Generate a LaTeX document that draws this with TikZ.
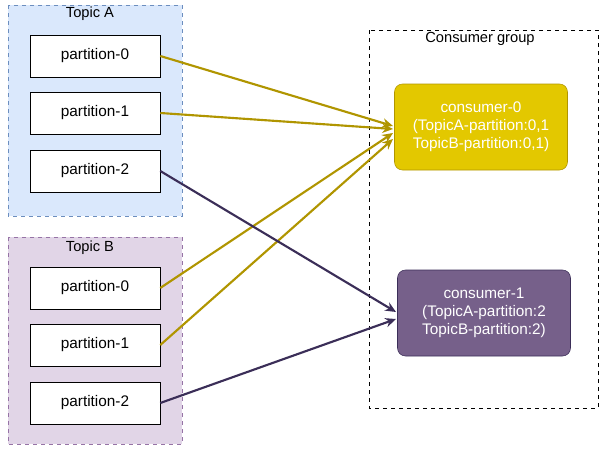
\documentclass[tikz,border=0pt]{standalone}
\usepackage{fontspec}
\setmainfont{Liberation Sans}
\usetikzlibrary{arrows.meta}
\definecolor{blueFill}{HTML}{DAE8FC}
\definecolor{blueLine}{HTML}{6C8EBF}
\definecolor{purpFill}{HTML}{E1D5E7}
\definecolor{purpLine}{HTML}{9673A6}
\definecolor{goldFill}{HTML}{E3C800}
\definecolor{goldLine}{HTML}{B09500}
\definecolor{violFill}{HTML}{76608A}
\definecolor{darkLine}{HTML}{3B2E58}
\tikzset{
  part/.style={draw, fill=white, minimum width=130*0.75pt, minimum height=42*0.75pt, inner sep=0pt, font=\fontsize{11.5}{13.5}\selectfont},
  cons/.style={draw, rounded corners=6pt, minimum width=173*0.75pt, minimum height=86*0.75pt, inner sep=1pt, align=center, text=white, font=\fontsize{11.5}{13.5}\selectfont},
  lbl/.style={font=\fontsize{11}{13}\selectfont},
  flow/.style={line width=1.6pt, -{Stealth[length=8pt,width=7pt]}}
}
\begin{document}
\begin{tikzpicture}[x=0.75pt,y=-0.75pt]
\useasboundingbox (0,0) rectangle (604,457);
% topics
\draw[dashed, blueLine, fill=blueFill] (8,5) rectangle (182,216);
\node[lbl] (topicA) at (90,14) {Topic A};
\draw[dashed, purpLine, fill=purpFill] (8,237) rectangle (182,444);
\node[lbl] (topicB) at (90,248) {Topic B};
\node[part] (a0) at (95,56) {partition-0};
\node[part] (a1) at (95,113) {partition-1};
\node[part] (a2) at (95,171) {partition-2};
\node[part] (b0) at (95,288) {partition-0};
\node[part] (b1) at (95,345) {partition-1};
\node[part] (b2) at (95,403) {partition-2};
% consumer group
\draw[dashed] (369,30) rectangle (598,408);
\node[lbl] (group) at (480,39) {Consumer group};
\node[cons, draw=goldLine, fill=goldFill] (c0) at (481,127) {consumer-0\\(TopicA-partition:0,1\\TopicB-partition:0,1)};
\node[cons, draw=darkLine, fill=violFill] (c1) at (484,313) {consumer-1\\(TopicA-partition:2\\TopicB-partition:2)};
\coordinate (c0a) at (393,126);
\coordinate (c0b) at (393,129);
\coordinate (c0c) at (393,133);
\coordinate (c0d) at (393,139);
\coordinate (c1a) at (396,312);
\coordinate (c1b) at (396,319);
% arrows
\draw[flow, goldLine] (a0.east) -- (c0a);
\draw[flow, goldLine] (a1.east) -- (c0b);
\draw[flow, goldLine] (b0.east) -- (c0c);
\draw[flow, goldLine] (b1.east) -- (c0d);
\draw[flow, darkLine] (a2.east) -- (c1a);
\draw[flow, darkLine] (b2.east) -- (c1b);
\end{tikzpicture}
\end{document}
